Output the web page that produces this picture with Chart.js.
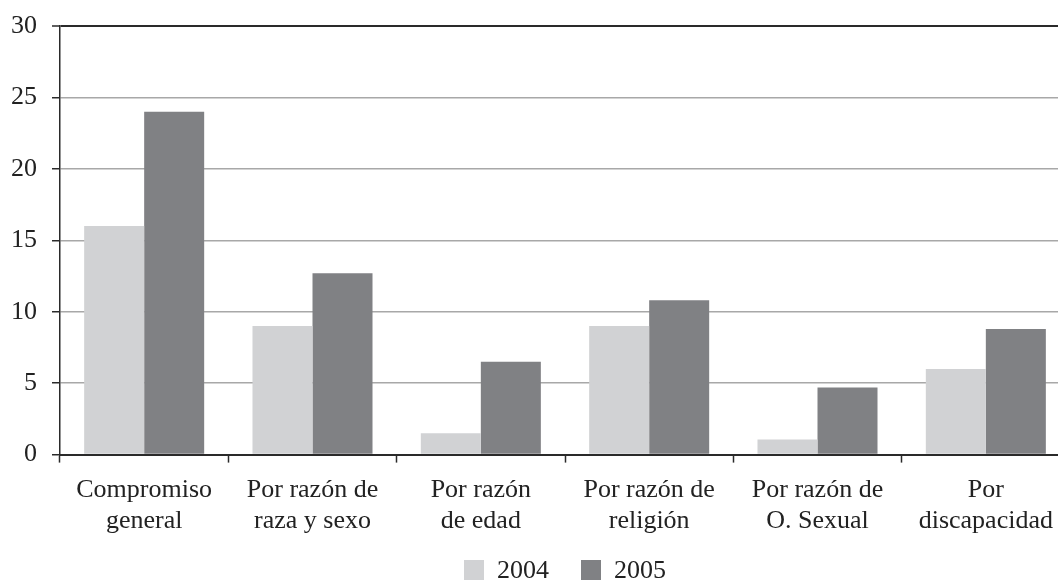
<!DOCTYPE html>
<html>
<head>
<meta charset="utf-8">
<script src="https://cdn.jsdelivr.net/npm/chart.js@4.4.1/dist/chart.umd.min.js"></script>
<style>
html,body{margin:0;padding:0;background:#fff;overflow:hidden;width:1058px;height:580px;}
canvas{display:block;position:absolute;left:0;top:0;}
</style>
</head>
<body>
<canvas id="c" width="1130" height="617" style="width:1130px;height:617px"></canvas>
<script>
const categories = [["Compromiso","general"],["Por razón de","raza y sexo"],["Por razón","de edad"],["Por razón de","religión"],["Por razón de","O. Sexual"],["Por","discapacidad"]];
const seriesNames = ["2004","2005"];
const values2004 = [16, 9, 1.5, 9, 1.05, 6];
const values2005 = [24, 12.7, 6.5, 10.8, 4.7, 8.8];
const yTicks = [0, 5, 10, 15, 20, 25, 30];

const FONT = "'Liberation Serif', 'Times New Roman', serif";
const DARK = "#2a2a2a";

const legendShift = {
  id: 'legendShift',
  afterLayout(chart) {
    const lg = chart.legend;
    if (lg) { lg.top -= 23; lg.bottom -= 23; }
  }
};

new Chart(document.getElementById('c'), {
  type: 'bar',
  data: {
    labels: categories,
    datasets: [
      { label: seriesNames[0], data: values2004, backgroundColor: '#d1d2d4', borderWidth: 0 },
      { label: seriesNames[1], data: values2005, backgroundColor: '#808184', borderWidth: 0 }
    ]
  },
  plugins: [legendShift],
  options: {
    responsive: false,
    animation: false,
    devicePixelRatio: 1,
    categoryPercentage: 0.713,
    barPercentage: 1.0,
    layout: { padding: { left: 0, right: 60, top: 26, bottom: 0 } },
    plugins: {
      tooltip: { enabled: false },
      legend: {
        position: 'bottom',
        fullSize: false,
        labels: {
          boxWidth: 20,
          boxHeight: 22,
          padding: 32,
          color: '#222',
          font: { family: FONT, size: 26 }
        }
      }
    },
    scales: {
      x: {
        grid: {
          offset: true,
          drawOnChartArea: false,
          drawTicks: true,
          tickLength: 8,
          tickColor: DARK,
          tickWidth: 1.5
        },
        border: { display: true, color: DARK, width: 2 },
        ticks: {
          color: '#222',
          padding: 12,
          maxRotation: 0,
          autoSkip: false,
          font: { family: FONT, size: 26, lineHeight: 1.2 }
        }
      },
      y: {
        min: 0,
        max: 30,
        afterFit: (s) => { s.width = 60; },
        afterBuildTicks: (axis) => { axis.ticks = yTicks.map(v => ({ value: v })); },
        grid: {
          color: (ctx) => (ctx.tick && (ctx.tick.value === 30 || ctx.tick.value === 0)) ? DARK : '#a8a8a8',
          lineWidth: (ctx) => (ctx.tick && ctx.tick.value === 30) ? 2 : 1.5,
          tickLength: 8,
          tickColor: DARK,
          tickWidth: 1.5
        },
        border: { display: true, color: DARK, width: 1.5 },
        ticks: {
          color: '#222',
          padding: 15,
          font: { family: FONT, size: 26, lineHeight: 0.8 }
        }
      }
    }
  }
});
</script>
</body>
</html>
